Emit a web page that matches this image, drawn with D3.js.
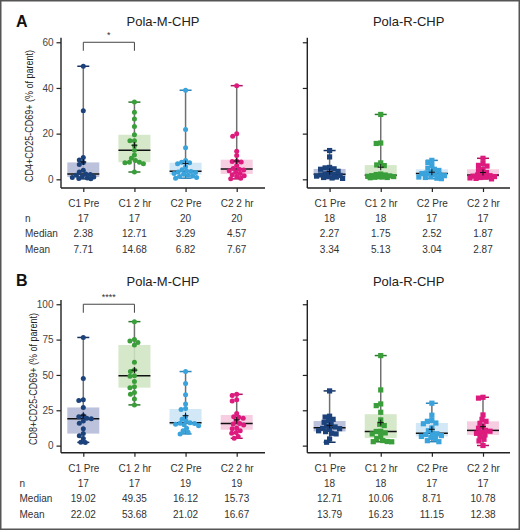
<!DOCTYPE html>
<html><head><meta charset="utf-8">
<script src="https://cdn.jsdelivr.net/npm/d3@7"></script>
<style>body{margin:0;background:#fff}svg{display:block}text{font-family:"Liberation Sans",Arial,sans-serif}</style>
</head><body>
<svg id="c" width="520" height="530"></svg>
<script>
const categories = ["C1 Pre", "C1 2 hr", "C2 Pre", "C2 2 hr"];
const ticksCD4 = [0, 20, 40, 60];
const ticksCD8 = [0, 25, 50, 75, 100];
const rowLabels = ["n", "Median", "Mean"];

// Panel A, CD4+CD25-CD69+
const cd4PolaM_C1Pre = [49.5, 30, 9.5, 8.5, 7.4, 6.5, 4.0, 3.2, 2.38, 2.1, 1.8, 1.2, 1.0, 0.8, 0.6, 0.4, 0.2];
const cd4PolaM_C12hr = [33.8, 29.4, 26.4, 23.1, 19.5, 16.9, 16.9, 14.7, 12.71, 10.7, 9.2, 8.2, 7.5, 7.5, 7.2, 6.8, 3.2];
const cd4PolaM_C2Pre = [39, 21.8, 13.8, 8.2, 7.5, 7.2, 6.8, 5.5, 4.2, 3.6, 3.38, 3.2, 3.0, 2.5, 2.2, 1.8, 1.5, 1.2, 0.8, 0.5];
const cd4PolaM_C22hr = [41, 19.9, 18.9, 12.3, 10.4, 8.0, 7.8, 7.6, 6.0, 4.74, 4.4, 4.1, 3.8, 3.1, 2.5, 2.0, 1.6, 1.2, 0.5, 0.2];
const cd4PolaR_C1Pre = [12.6, 9.8, 5.2, 5.0, 4.6, 4.4, 3.5, 2.8, 2.4, 2.14, 1.9, 1.7, 1.4, 1.2, 1.0, 0.8, 0.6, 0.4];
const cd4PolaR_C12hr = [28.4, 15.9, 15.7, 7.2, 6.3, 6.0, 2.3, 2.1, 1.9, 1.6, 1.5, 1.3, 1.2, 1.1, 1.0, 0.9, 0.8, 0.7];
const cd4PolaR_C2Pre = [8.3, 7.4, 6.0, 4.9, 4.4, 3.9, 3.2, 2.7, 2.52, 2.2, 2.0, 1.6, 1.2, 1.0, 0.8, 0.5, 0.3];
const cd4PolaR_C22hr = [9.2, 6.9, 6.1, 5.8, 4.4, 3.8, 3.0, 2.4, 1.87, 1.6, 1.4, 1.2, 1.0, 0.8, 0.6, 0.4, 0.2];

// Panel B, CD8+CD25-CD69+
const cd8PolaM_C1Pre = [76.5, 47.5, 32.5, 32, 27, 21.2, 20.5, 19.3, 19.02, 17.5, 15.8, 12, 8.5, 7, 5, 2.4, 2.3];
const cd8PolaM_C12hr = [87.7, 75, 74, 73, 71.2, 59, 53.5, 52.4, 49.35, 49.0, 45.3, 41.7, 41, 37.5, 36.3, 33, 28.8];
const cd8PolaM_C2Pre = [52.4, 44, 36, 29.5, 26.2, 25.6, 20.5, 18.6, 17.5, 16.12, 15.9, 15.6, 15.2, 14.8, 14.0, 12.3, 10.5, 9.4, 8.3];
const cd8PolaM_C22hr = [36.3, 35.5, 32.5, 31.5, 22.8, 20.5, 20.0, 19.3, 17.5, 15.73, 15.3, 14.6, 12.5, 12.0, 10.5, 9.2, 8.7, 6.5, 5.2];
const cd8PolaR_C1Pre = [38.7, 20.8, 20.2, 18.6, 17.7, 16.5, 15.1, 13.8, 13.2, 12.22, 12.0, 11.5, 10.5, 9.9, 8.7, 8.3, 4.7, 2.4];
const cd8PolaR_C12hr = [63.7, 39.4, 29.5, 28.3, 23.6, 18.2, 15.1, 14.2, 10.1, 10.02, 9.0, 8.3, 6.4, 5.0, 3.6, 2.9, 2.8, 2.7];
const cd8PolaR_C2Pre = [30, 21.5, 17.8, 17.2, 16.0, 15.5, 12.5, 10.5, 8.71, 8.4, 7.8, 7.1, 6.5, 5.7, 5.0, 3.5, 2.8];
const cd8PolaR_C22hr = [34.2, 33.6, 21.7, 18.6, 17.2, 15.8, 13.4, 12.3, 10.78, 10.2, 9.5, 8.7, 7.6, 6.4, 4.5, 3.3, 0.1];

// Tables
const nCD4M = [17, 17, 20, 20], medCD4M = [2.38, 12.71, 3.29, 4.57], meanCD4M = [7.71, 14.68, 6.82, 7.67];
const nCD4R = [18, 18, 17, 17], medCD4R = [2.27, 1.75, 2.52, 1.87], meanCD4R = [3.34, 5.13, 3.04, 2.87];
const nCD8M = [17, 17, 19, 19], medCD8M = [19.02, 49.35, 16.12, 15.73], meanCD8M = [22.02, 53.68, 21.02, 16.67];
const nCD8R = [18, 18, 17, 17], medCD8R = [12.71, 10.06, 8.71, 10.78], meanCD8R = [13.79, 16.23, 11.15, 12.38];

const pointColors = ["#1c427c", "#3a9e3a", "#3aa3dc", "#dd1a7e"];
const capColors = ["#173361", "#2d772d", "#2b86ba", "#b0145f"];
const boxColors = ["#b3bad7", "#d0e5c3", "#cde5f6", "#f6c6dd"];

const svg = d3.select("#c");
svg.append("rect").attr("x", 0.75).attr("y", 0.75).attr("width", 518.5).attr("height", 528.5)
  .attr("fill", "#fff").attr("stroke", "#555").attr("stroke-width", 1.5);

// deterministic swarm layout, bounded to the box width (points may overlap when crowded)
function swarm(values, y, r, maxDx) {
  const pts = values.map(v => ({ v, py: y(v) })).sort((a, b) => a.py - b.py);
  const placed = [];
  const minD = 2 * r * 0.85;
  for (const p of pts) {
    let best = 0, bestScore = -Infinity, found = false;
    for (let k = 0; k <= maxDx * 4; k++) {
      const cand = (k % 2 === 0 ? 1 : -1) * Math.ceil(k / 2) * 0.5;
      if (Math.abs(cand) > maxDx) continue;
      let md = Infinity;
      for (const q of placed) md = Math.min(md, Math.hypot(q.dx - cand, q.py - p.py));
      if (md >= minD) { best = cand; found = true; break; }
      if (md > bestScore + 0.01) { bestScore = md; best = cand; }
    }
    p.dx = best; placed.push(p);
  }
  return placed;
}

function panel(o) {
  const g = svg.append("g");
  const y = d3.scaleLinear().domain(o.domain).range([o.yBottom, o.yTop]);
  const x = d3.scalePoint().domain(categories).range([o.x0 + 22.3, o.x0 + 175.7]);
  g.append("text").attr("x", (o.x0 + o.x1) / 2).attr("y", o.titleY).attr("text-anchor", "middle")
    .attr("font-size", 13).attr("fill", "#222").text(o.title);
  const ya = d3.axisLeft(y).tickValues(o.ticks).tickSize(4.5).tickPadding(3)
    .tickFormat(o.labels ? d3.format("d") : () => "");
  const gy = g.append("g").attr("transform", `translate(${o.x0},0)`).call(ya);
  gy.select(".domain").attr("stroke", "#222").attr("stroke-width", 1.4).attr("d", `M0,${o.yTop}V${o.yBottom}`);
  gy.selectAll(".tick line").attr("stroke", "#222").attr("stroke-width", 1.2);
  gy.selectAll(".tick text").attr("font-size", 10).attr("fill", "#444").attr("font-family", "Liberation Sans, Arial");
  const xa = d3.axisBottom(x).tickSize(4).tickPadding(8);
  const gx = g.append("g").attr("transform", `translate(0,${o.yBottom})`).call(xa);
  gx.select(".domain").attr("stroke", "#222").attr("stroke-width", 1.4).attr("d", `M${o.x0},0H${o.x1}`);
  gx.selectAll(".tick line").attr("stroke", "#222").attr("stroke-width", 1.2);
  gx.selectAll(".tick text").attr("font-size", 10).attr("fill", "#333").attr("font-family", "Liberation Sans, Arial");

  const hw = 16;
  o.data.forEach((vals, i) => {
    const cx = x(categories[i]);
    const s = vals.slice().sort(d3.ascending);
    const q1 = d3.quantile(s, 0.25), q3 = d3.quantile(s, 0.75), med = d3.median(s);
    const mn = s[0], mx = s[s.length - 1], mean = d3.mean(s);
    g.append("line").attr("x1", cx).attr("x2", cx).attr("y1", y(mx)).attr("y2", y(mn))
      .attr("stroke", "#707070").attr("stroke-width", 1.5);
    g.append("rect").attr("x", cx - hw).attr("width", 2 * hw).attr("y", y(q3)).attr("height", y(q1) - y(q3))
      .attr("fill", boxColors[i]).attr("fill-opacity", 0.88);
    g.append("line").attr("x1", cx - hw).attr("x2", cx + hw).attr("y1", y(med)).attr("y2", y(med))
      .attr("stroke", "#111").attr("stroke-width", 1.5);
    [mn, mx].forEach(v => g.append("line").attr("x1", cx - 6).attr("x2", cx + 6).attr("y1", y(v)).attr("y2", y(v))
      .attr("stroke", capColors[i]).attr("stroke-width", 1.5));
    const r = o.square ? 2.6 : 2.5;
    const pts = swarm(vals, y, r, hw - r);
    if (o.square) {
      g.selectAll(null).data(pts).enter().append("rect")
        .attr("x", d => cx + d.dx - r).attr("y", d => d.py - r).attr("width", 2 * r).attr("height", 2 * r)
        .attr("fill", pointColors[i]);
    } else {
      g.selectAll(null).data(pts).enter().append("circle")
        .attr("cx", d => cx + d.dx).attr("cy", d => d.py).attr("r", r).attr("fill", pointColors[i]);
    }
    const my = y(mean);
    g.append("path").attr("d", `M${cx - 3},${my}H${cx + 3}M${cx},${my - 3}V${my + 3}`)
      .attr("stroke", "#111").attr("stroke-width", 1);
  });

  if (o.sig) {
    const a = x(categories[0]), b = x(categories[1]), by = y(o.sig.level);
    g.append("path").attr("d", `M${a},${by + 8.5}V${by}H${b}V${by + 8.5}`)
      .attr("fill", "none").attr("stroke", "#444").attr("stroke-width", 1);
    g.append("text").attr("x", (a + b) / 2).attr("y", by - 4).attr("text-anchor", "middle")
      .attr("font-size", 9).attr("fill", "#333").text(o.sig.label);
  }
  const rows = [o.n, o.med.map(v => v.toFixed(2)), o.mean.map(v => v.toFixed(2))];
  rows.forEach((row, ri) => {
    if (o.labels) g.append("text").attr("x", o.rowX).attr("y", o.rowY[ri]).attr("font-size", 10)
      .attr("fill", "#333").text(rowLabels[ri]);
    row.forEach((v, ci) => g.append("text").attr("x", x(categories[ci])).attr("y", o.rowY[ri])
      .attr("text-anchor", "middle").attr("font-size", 10).attr("fill", "#333").text(v));
  });
  return g;
}

svg.append("text").attr("x", 16).attr("y", 26.5).attr("font-size", 16).attr("font-weight", "bold").attr("fill", "#111").text("A");
svg.append("text").attr("x", 16).attr("y", 285.5).attr("font-size", 16).attr("font-weight", "bold").attr("fill", "#111").text("B");
svg.append("text").attr("transform", "translate(32.5,116) rotate(-90)").attr("text-anchor", "middle")
  .attr("font-size", 10).attr("fill", "#222").attr("textLength", 132).attr("lengthAdjust", "spacingAndGlyphs")
  .text("CD4+CD25-CD69+ (% of parent)");
svg.append("text").attr("transform", "translate(36.5,379) rotate(-90)").attr("text-anchor", "middle")
  .attr("font-size", 10).attr("fill", "#222").attr("textLength", 132).attr("lengthAdjust", "spacingAndGlyphs")
  .text("CD8+CD25-CD69+ (% of parent)");

panel({ x0: 61, x1: 265, yTop: 37.7, yBottom: 188, domain: [-3.8, 62], ticks: ticksCD4, labels: true,
  title: "Pola-M-CHP", titleY: 26, data: [cd4PolaM_C1Pre, cd4PolaM_C12hr, cd4PolaM_C2Pre, cd4PolaM_C22hr],
  square: false, sig: { level: 60, label: "*" }, n: nCD4M, med: medCD4M, mean: meanCD4M,
  rowX: 25, rowY: [222, 237, 253] });
panel({ x0: 307.3, x1: 510, yTop: 37.7, yBottom: 188, domain: [-3.8, 62], ticks: ticksCD4, labels: false,
  title: "Pola-R-CHP", titleY: 26, data: [cd4PolaR_C1Pre, cd4PolaR_C12hr, cd4PolaR_C2Pre, cd4PolaR_C22hr],
  square: true, n: nCD4R, med: medCD4R, mean: meanCD4R, rowY: [222, 237, 253] });
panel({ x0: 61, x1: 265, yTop: 300, yBottom: 452.7, domain: [-5, 103], ticks: ticksCD8, labels: true,
  title: "Pola-M-CHP", titleY: 286, data: [cd8PolaM_C1Pre, cd8PolaM_C12hr, cd8PolaM_C2Pre, cd8PolaM_C22hr],
  square: false, sig: { level: 100, label: "****" }, n: nCD8M, med: medCD8M, mean: meanCD8M,
  rowX: 19.5, rowY: [486.5, 502, 517.5] });
panel({ x0: 307.3, x1: 510, yTop: 300, yBottom: 452.7, domain: [-5, 103], ticks: ticksCD8, labels: false,
  title: "Pola-R-CHP", titleY: 286, data: [cd8PolaR_C1Pre, cd8PolaR_C12hr, cd8PolaR_C2Pre, cd8PolaR_C22hr],
  square: true, n: nCD8R, med: medCD8R, mean: meanCD8R, rowY: [486.5, 502, 517.5] });
</script>
</body></html>
